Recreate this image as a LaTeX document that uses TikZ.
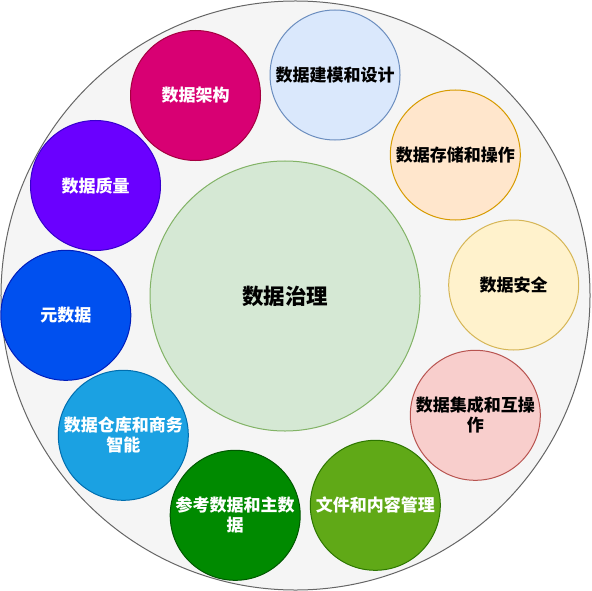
\documentclass[tikz,border=0pt]{standalone}
\usepackage{fontspec}
\setmainfont{Noto Sans CJK SC}
\definecolor{cring}{HTML}{F5F5F5}
\definecolor{cringline}{HTML}{666666}
\definecolor{cgov}{HTML}{D5E8D4}
\definecolor{cgovline}{HTML}{82B366}
\definecolor{cblue}{HTML}{DAE8FC}
\definecolor{cblueline}{HTML}{6C8EBF}
\definecolor{corange}{HTML}{FFE6CC}
\definecolor{corangeline}{HTML}{D79B00}
\definecolor{cyellow}{HTML}{FFF2CC}
\definecolor{cyellowline}{HTML}{D6B656}
\definecolor{cred}{HTML}{F8CECC}
\definecolor{credline}{HTML}{B85450}
\definecolor{clime}{HTML}{60A917}
\definecolor{climeline}{HTML}{2D7600}
\definecolor{cgreen}{HTML}{008A00}
\definecolor{cgreenline}{HTML}{005700}
\definecolor{csky}{HTML}{1BA1E2}
\definecolor{cskyline}{HTML}{006EAF}
\definecolor{ccobalt}{HTML}{0050EF}
\definecolor{ccobaltline}{HTML}{001DBC}
\definecolor{cviolet}{HTML}{6A00FF}
\definecolor{cvioletline}{HTML}{3700CC}
\definecolor{cmagenta}{HTML}{D80073}
\definecolor{cmagentaline}{HTML}{A50040}
\tikzset{
  every picture/.style={line width=1bp},
  topic/.style 2 args={circle, draw=#2, fill=#1, minimum size=130bp, inner sep=0pt,
    align=center, font=\fontsize{17bp}{20bp}\selectfont\bfseries},
  light/.style={text=black},
  dark/.style={text=white},
}

\begin{document}
\begin{tikzpicture}[x=1bp, y=-1bp]
  \useasboundingbox (0,0) rectangle (592,591);
  \node[circle, draw=cringline, fill=cring, minimum size=589bp, inner sep=0pt] (ring) at (295.5,295.5) {};
  \node[circle, draw=cgovline, fill=cgov, minimum size=270bp, inner sep=0pt,
    font=\fontsize{21.5bp}{24bp}\selectfont\bfseries] (gov) at (285,296) {数据治理};
  % light ones, right side
  \node[topic={cblue}{cblueline}, light] (model) at (335,75) {数据建模和设计};
  \node[topic={corange}{corangeline}, light] (store) at (455.3,155) {数据存储和操作};
  \node[topic={cyellow}{cyellowline}, light] (secure) at (513.7,285) {数据安全};
  \node[topic={cred}{credline}, light] (integ) at (475.3,415.3) {数据集成和互操\\作};
  % dark ones
  \node[topic={clime}{climeline}, dark] (docs) at (375.3,505.3) {文件和内容管理};
  \node[topic={cgreen}{cgreenline}, dark] (master) at (235.2,515.3) {参考数据和主数\\据};
  \node[topic={csky}{cskyline}, dark] (dwbi) at (123.3,435.3) {数据仓库和商务\\智能};
  \node[topic={ccobalt}{ccobaltline}, dark] (meta) at (65.8,315.3) {元数据};
  \node[topic={cviolet}{cvioletline}, dark] (quality) at (95.5,185.5) {数据质量};
  \node[topic={cmagenta}{cmagentaline}, dark] (arch) at (195.5,95.5) {数据架构};
\end{tikzpicture}
\end{document}
